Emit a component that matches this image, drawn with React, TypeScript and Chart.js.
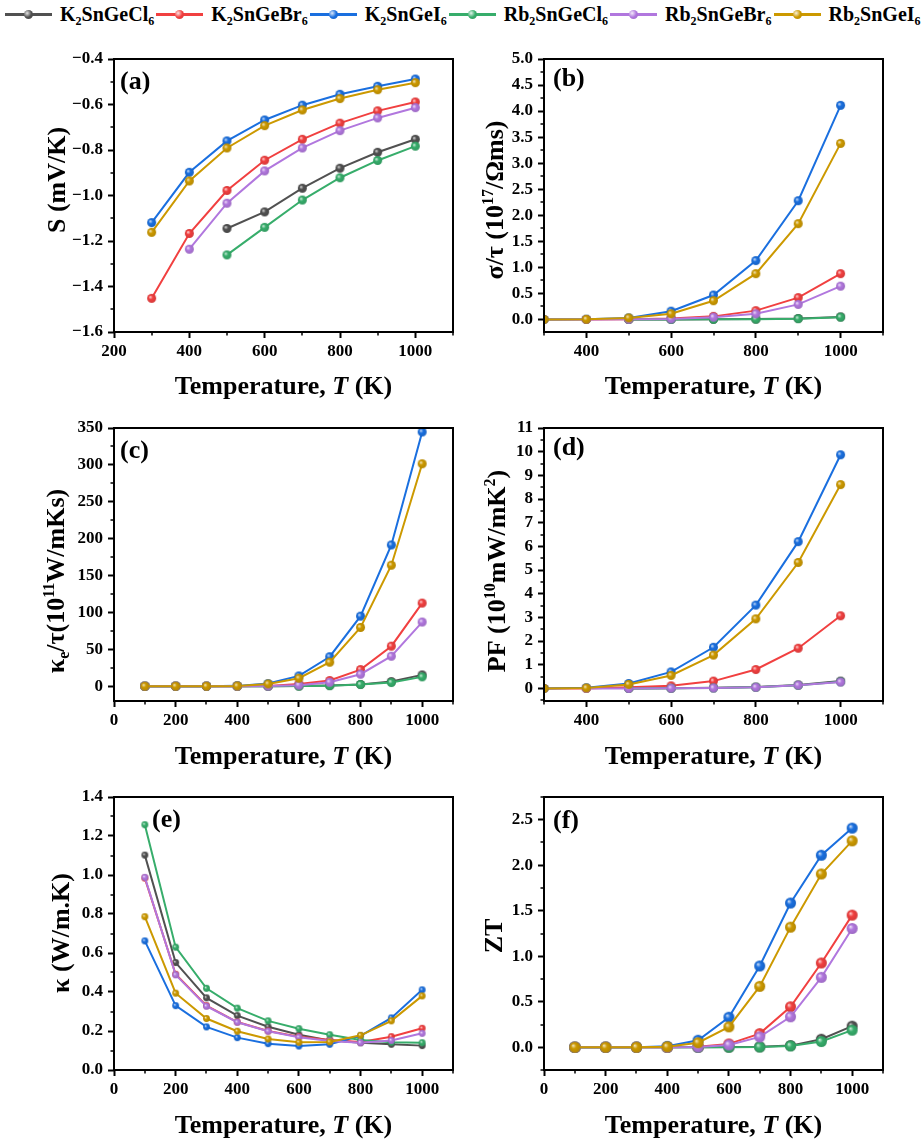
import React, { useEffect, useRef } from "react";
import { Chart, registerables } from "chart.js";

Chart.register(...registerables);

const FONT = "'Liberation Serif', 'Times New Roman', Times, serif";

// ---- data -----------------------------------------------------------------
const temperatures = [100, 200, 300, 400, 500, 600, 700, 800, 900, 1000];

const seriesNames = ["K2SnGeCl6", "K2SnGeBr6", "K2SnGeI6", "Rb2SnGeCl6", "Rb2SnGeBr6", "Rb2SnGeI6"];
const seriesColors = ["#515151", "#F14040", "#1A6FDF", "#37AD6B", "#B177DE", "#CC9900"];

// Seebeck coefficient S (mV/K), rows follow seriesNames
const seebeck = [
  [null, null, null, null, -1.145, -1.072, -0.968, -0.88, -0.81, -0.753],
  [null, null, -1.452, -1.167, -0.978, -0.845, -0.753, -0.682, -0.628, -0.589],
  [null, null, -1.119, -0.898, -0.76, -0.668, -0.603, -0.555, -0.52, -0.488],
  [null, null, null, null, -1.261, -1.14, -1.02, -0.922, -0.846, -0.783],
  [null, null, null, -1.236, -1.034, -0.892, -0.791, -0.715, -0.659, -0.614],
  [null, null, -1.162, -0.936, -0.791, -0.693, -0.624, -0.574, -0.535, -0.504],
];

// Electrical conductivity per relaxation time (10^17 / Ohm m s)
const conductivity = [
  [null, null, null, null, 0.0, 0.002, 0.004, 0.008, 0.02, 0.05],
  [null, null, 0.0, 0.0, 0.005, 0.02, 0.06, 0.17, 0.42, 0.88],
  [null, null, 0.0, 0.005, 0.03, 0.16, 0.47, 1.13, 2.28, 4.11],
  [null, null, null, null, 0.0, 0.001, 0.003, 0.006, 0.015, 0.045],
  [null, null, null, 0.0, 0.003, 0.01, 0.045, 0.11, 0.29, 0.64],
  [null, null, 0.0, 0.004, 0.03, 0.11, 0.36, 0.88, 1.84, 3.38],
];

// Electronic thermal conductivity per relaxation time (10^11 W/mKs)
const electronicKappa = [
  [0, 0, 0, 0, 0.05, 0.3, 1.0, 2.5, 6.3, 15.4],
  [0, 0, 0, 0.1, 0.5, 3.0, 7.7, 22.6, 54.3, 112.7],
  [0, 0, 0, 0.5, 3.6, 14.0, 40.0, 95.0, 191.5, 344.6],
  [0, 0, 0, 0, 0.03, 0.2, 0.8, 2.3, 5.0, 12.7],
  [0, 0, 0, 0.05, 0.2, 1.5, 5.4, 16.3, 40.7, 87.0],
  [0, 0, 0, 0.4, 3.2, 10.9, 32.6, 79.7, 164.0, 301.5],
];

// Power factor (10^10 mW/mK^2)
const powerFactor = [
  [null, null, null, null, 0.0, 0.01, 0.03, 0.06, 0.15, 0.31],
  [null, null, 0.0, 0.0, 0.05, 0.11, 0.31, 0.8, 1.7, 3.07],
  [null, null, 0.0, 0.03, 0.21, 0.7, 1.74, 3.52, 6.2, 9.87],
  [null, null, null, null, 0.0, 0.01, 0.02, 0.05, 0.13, 0.28],
  [null, null, null, 0.0, 0.0, 0.01, 0.02, 0.05, 0.14, 0.27],
  [null, null, 0.0, 0.02, 0.17, 0.55, 1.41, 2.94, 5.32, 8.61],
];

// Lattice thermal conductivity kappa (W/m.K)
const latticeKappa = [
  [1.102, 0.551, 0.37, 0.279, 0.222, 0.181, 0.152, 0.14, 0.132, 0.125],
  [0.984, 0.491, 0.33, 0.246, 0.2, 0.171, 0.154, 0.144, 0.171, 0.214],
  [0.662, 0.33, 0.221, 0.166, 0.135, 0.123, 0.132, 0.175, 0.267, 0.411],
  [1.258, 0.63, 0.419, 0.317, 0.252, 0.212, 0.181, 0.154, 0.142, 0.14],
  [0.988, 0.488, 0.327, 0.245, 0.199, 0.168, 0.149, 0.14, 0.151, 0.188],
  [0.786, 0.394, 0.264, 0.199, 0.159, 0.142, 0.144, 0.178, 0.252, 0.38],
];

// Figure of merit ZT
const figureOfMerit = [
  [0, 0, 0, 0, 0, 0.002, 0.005, 0.018, 0.088, 0.232],
  [0, 0, 0, 0, 0.005, 0.037, 0.15, 0.445, 0.926, 1.452],
  [0, 0, 0, 0.01, 0.077, 0.33, 0.893, 1.585, 2.11, 2.408],
  [0, 0, 0, 0, 0, 0.001, 0.003, 0.015, 0.063, 0.188],
  [0, 0, 0, 0, 0.003, 0.026, 0.114, 0.335, 0.768, 1.305],
  [0, 0, 0, 0.005, 0.05, 0.224, 0.669, 1.32, 1.904, 2.268],
];

// tick labels
const xTicksFrom0 = [0, 200, 400, 600, 800, 1000];
const xTicksFrom200 = [200, 400, 600, 800, 1000];
const xTicksFrom400 = [400, 600, 800, 1000];
const seebeckTicks = [-1.6, -1.4, -1.2, -1.0, -0.8, -0.6, -0.4];
const conductivityTicks = [0, 0.5, 1.0, 1.5, 2.0, 2.5, 3.0, 3.5, 4.0, 4.5, 5.0];
const electronicKappaTicks = [0, 50, 100, 150, 200, 250, 300, 350];
const powerFactorTicks = [0, 1, 2, 3, 4, 5, 6, 7, 8, 9, 10, 11];
const latticeKappaTicks = [0, 0.2, 0.4, 0.6, 0.8, 1.0, 1.2, 1.4];
const figureOfMeritTicks = [0, 0.5, 1.0, 1.5, 2.0, 2.5];

// ---- rich text ----------------------------------------------------------------
type Seg = { t: string; sup?: boolean; sub?: boolean; it?: boolean };

const tempTitle: Seg[] = [{ t: "Temperature, " }, { t: "T", it: true }, { t: " (K)" }];

function segFont(s: Seg, size: number) {
  const sz = s.sup || s.sub ? Math.round(size * 0.62) : size;
  return `${s.it ? "italic " : ""}bold ${sz}px ${FONT}`;
}

function drawRich(
  ctx: CanvasRenderingContext2D,
  segs: Seg[],
  x: number,
  y: number,
  size: number,
  vertical: boolean,
  align: "center" | "left"
) {
  ctx.save();
  ctx.translate(x, y);
  if (vertical) ctx.rotate(-Math.PI / 2);
  ctx.textBaseline = "alphabetic";
  ctx.textAlign = "left";
  ctx.fillStyle = "#000";
  const widths = segs.map((s) => {
    ctx.font = segFont(s, size);
    return ctx.measureText(s.t).width;
  });
  const total = widths.reduce((a, b) => a + b, 0);
  let cx = align === "center" ? -total / 2 : 0;
  const base = size * 0.331;
  segs.forEach((s, i) => {
    ctx.font = segFont(s, size);
    const dy = s.sup ? -size * 0.36 : s.sub ? size * 0.2 : 0;
    ctx.fillText(s.t, cx, base + dy);
    cx += widths[i];
  });
  ctx.restore();
}

// ---- markers -------------------------------------------------------------------
function mix(hex: string, target: number, t: number) {
  const n = parseInt(hex.slice(1), 16);
  const c = [(n >> 16) & 255, (n >> 8) & 255, n & 255].map((v) => Math.round(v + (target - v) * t));
  return `rgb(${c[0]},${c[1]},${c[2]})`;
}

function sphere(color: string, r: number) {
  const c = document.createElement("canvas");
  const s = Math.ceil(r * 2 + 2);
  c.width = s;
  c.height = s;
  const g = c.getContext("2d")!;
  const cx = s / 2;
  const cy = s / 2;
  const grad = g.createRadialGradient(cx - r * 0.35, cy - r * 0.35, 0, cx, cy, r);
  grad.addColorStop(0, mix(color, 255, 0.85));
  grad.addColorStop(0.45, color);
  grad.addColorStop(1, mix(color, 0, 0.12));
  g.fillStyle = grad;
  g.beginPath();
  g.arc(cx, cy, r, 0, Math.PI * 2);
  g.fill();
  return c;
}

// ---- panel layout ---------------------------------------------------------------
type Box = { x: number; y: number; w: number; h: number };
type Panel = {
  tag: string;
  rows: (number | null)[][];
  box: Box;
  plot: { left: number; top: number; right: number; bottom: number };
  xMin: number;
  xMax: number;
  xTicks: number[];
  yMin: number;
  yMax: number;
  yTicks: number[];
  yDecimals: number;
  yTitle: Seg[];
  yTitlePos: [number, number];
  tagPos: [number, number];
  xTitleY: number;
  radius: number;
};

const colLeft = { x: 0, w: 460, left: 114, right: 453, titleX: 283.5 };
const colRight = { x: 460, w: 461, left: 544, right: 883, titleX: 713.5 };
const row1 = { y: 40, h: 365, top: 59, bottom: 332 };
const row2 = { y: 405, h: 375, top: 428, bottom: 701 };
const row3 = { y: 780, h: 364, top: 797, bottom: 1070 };

function frame(col: typeof colLeft, row: typeof row1) {
  return {
    box: { x: col.x, y: row.y, w: col.w, h: row.h },
    plot: { left: col.left, top: row.top, right: col.right, bottom: row.bottom },
  };
}

const panels: Panel[] = [
  {
    tag: "(a)",
    rows: seebeck,
    ...frame(colLeft, row1),
    xMin: 200, xMax: 1100, xTicks: xTicksFrom200,
    yMin: -1.6, yMax: -0.4, yTicks: seebeckTicks, yDecimals: 1,
    yTitle: [{ t: "S (mV/K)" }],
    yTitlePos: [56, 180], tagPos: [120, 80], xTitleY: 385.5, radius: 4.5,
  },
  {
    tag: "(b)",
    rows: conductivity,
    ...frame(colRight, row1),
    xMin: 300, xMax: 1100, xTicks: xTicksFrom400,
    yMin: -0.24, yMax: 5.0, yTicks: conductivityTicks, yDecimals: 1,
    yTitle: [{ t: "σ/τ (10" }, { t: "17", sup: true }, { t: "/Ωms)" }],
    yTitlePos: [494, 200], tagPos: [553, 77], xTitleY: 385.5, radius: 4.5,
  },
  {
    tag: "(c)",
    rows: electronicKappa,
    ...frame(colLeft, row2),
    xMin: 0, xMax: 1100, xTicks: xTicksFrom0,
    yMin: -20, yMax: 350, yTicks: electronicKappaTicks, yDecimals: 0,
    yTitle: [{ t: "κ" }, { t: "e", sub: true }, { t: "/τ(10" }, { t: "11", sup: true }, { t: "W/mKs)" }],
    yTitlePos: [55, 581], tagPos: [120, 449], xTitleY: 755, radius: 4.5,
  },
  {
    tag: "(d)",
    rows: powerFactor,
    ...frame(colRight, row2),
    xMin: 300, xMax: 1100, xTicks: xTicksFrom400,
    yMin: -0.53, yMax: 11, yTicks: powerFactorTicks, yDecimals: 0,
    yTitle: [{ t: "PF (10" }, { t: "10", sup: true }, { t: "mW/mK" }, { t: "2", sup: true }, { t: ")" }],
    yTitlePos: [496, 571], tagPos: [553, 446], xTitleY: 755, radius: 4.5,
  },
  {
    tag: "(e)",
    rows: latticeKappa,
    ...frame(colLeft, row3),
    xMin: 0, xMax: 1100, xTicks: xTicksFrom0,
    yMin: 0, yMax: 1.4, yTicks: latticeKappaTicks, yDecimals: 1,
    yTitle: [{ t: "κ (W/m.K)" }],
    yTitlePos: [60, 933], tagPos: [152, 818], xTitleY: 1124, radius: 3.4,
  },
  {
    tag: "(f)",
    rows: figureOfMerit,
    ...frame(colRight, row3),
    xMin: 0, xMax: 1100, xTicks: xTicksFrom0,
    yMin: -0.25, yMax: 2.75, yTicks: figureOfMeritTicks, yDecimals: 1,
    yTitle: [{ t: "ZT" }],
    yTitlePos: [493, 936], tagPos: [553, 819], xTitleY: 1124, radius: 5.5,
  },
];

function minorTicks(major: number[], min: number, max: number) {
  const half = (major[1] - major[0]) / 2;
  const out: number[] = [];
  const start = major[0] + Math.ceil((min - major[0]) / half - 1e-9) * half;
  for (let v = start; v <= max + 1e-9; v += half) {
    if (!major.some((m) => Math.abs(m - v) < half * 0.01)) out.push(v);
  }
  return out;
}

function formatTick(v: number, d: number) {
  const s = Math.abs(v).toFixed(d);
  return v < -1e-9 ? "\u2212" + s : s;
}

function buildChart(canvas: HTMLCanvasElement, p: Panel) {
  const xMinor = minorTicks(p.xTicks, p.xMin, p.xMax);
  const yMinor = minorTicks(p.yTicks, p.yMin, p.yMax);
  const tickFont = { family: FONT, size: 17, weight: "bold" as const };
  const axisGrid = {
    display: true,
    drawOnChartArea: false,
    drawTicks: true,
    tickLength: 6,
    tickWidth: 2,
    tickColor: "#000",
    color: "#000",
  };

  const decor = {
    id: "decor",
    afterDraw(chart: Chart) {
      const { ctx, chartArea: a, scales } = chart;
      ctx.save();
      ctx.strokeStyle = "#000";
      ctx.lineWidth = 2;
      ctx.strokeRect(a.left, a.top, a.right - a.left, a.bottom - a.top);
      ctx.lineWidth = 1.5;
      ctx.beginPath();
      xMinor.forEach((v) => {
        const px = Math.round(scales.x.getPixelForValue(v));
        ctx.moveTo(px, a.bottom);
        ctx.lineTo(px, a.bottom + 3.5);
      });
      yMinor.forEach((v) => {
        const py = Math.round(scales.y.getPixelForValue(v));
        ctx.moveTo(a.left, py);
        ctx.lineTo(a.left - 3.5, py);
      });
      ctx.stroke();
      ctx.restore();

      const ox = p.box.x;
      const oy = p.box.y;
      drawRich(ctx, p.yTitle, p.yTitlePos[0] - ox, p.yTitlePos[1] - oy, 26, true, "center");
      drawRich(ctx, tempTitle, (p.plot.left + p.plot.right) / 2 - ox, p.xTitleY - oy, 26, false, "center");
      drawRich(ctx, [{ t: p.tag }], p.tagPos[0] - ox, p.tagPos[1] - oy, 26, false, "left");
    },
  };

  return new Chart(canvas, {
    type: "line",
    data: {
      datasets: p.rows.map((vals, i) => ({
        label: seriesNames[i],
        data: temperatures
          .map((t, k) => ({ x: t, y: vals[k] }))
          .filter((pt) => pt.y !== null) as { x: number; y: number }[],
        borderColor: seriesColors[i],
        backgroundColor: seriesColors[i],
        borderWidth: 2,
        pointStyle: sphere(seriesColors[i], p.radius) as any,
        pointRadius: p.radius,
        tension: 0,
        order: -i,
      })),
    },
    options: {
      animation: false,
      responsive: false,
      devicePixelRatio: 1,
      events: [],
      layout: {
        padding: {
          top: p.plot.top - p.box.y,
          right: p.box.x + p.box.w - p.plot.right,
          left: 0,
          bottom: 0,
        },
      },
      plugins: { legend: { display: false }, tooltip: { enabled: false } },
      scales: {
        x: {
          type: "linear",
          min: p.xMin,
          max: p.xMax,
          afterBuildTicks: (s: any) => {
            s.ticks = p.xTicks.map((v) => ({ value: v }));
          },
          afterFit: (s: any) => {
            s.height = p.box.y + p.box.h - p.plot.bottom;
          },
          grid: axisGrid,
          border: { display: false },
          ticks: {
            font: tickFont,
            color: "#000",
            padding: 3,
            maxRotation: 0,
            autoSkip: false,
            callback: (v: any) => String(v),
          },
        },
        y: {
          type: "linear",
          min: p.yMin,
          max: p.yMax,
          afterBuildTicks: (s: any) => {
            s.ticks = p.yTicks.map((v) => ({ value: v }));
          },
          afterFit: (s: any) => {
            s.width = p.plot.left - p.box.x;
          },
          grid: axisGrid,
          border: { display: false },
          ticks: {
            font: tickFont,
            color: "#000",
            padding: 5,
            autoSkip: false,
            callback: (v: any) => formatTick(Number(v), p.yDecimals),
          },
        },
      },
    },
    plugins: [decor],
  } as any);
}

function PanelChart({ panel }: { panel: Panel }) {
  const ref = useRef<HTMLCanvasElement>(null);
  useEffect(() => {
    const chart = buildChart(ref.current!, panel);
    return () => chart.destroy();
  }, [panel]);
  const b = panel.box;
  return (
    <canvas
      ref={ref}
      width={b.w}
      height={b.h}
      style={{ position: "absolute", left: b.x, top: b.y, width: b.w, height: b.h }}
    />
  );
}

function Formula({ name }: { name: string }) {
  const parts = name.split(/(\d+)/).filter(Boolean);
  return (
    <>
      {parts.map((part, i) =>
        /\d/.test(part) ? (
          <span key={i} style={{ fontSize: "0.6em", position: "relative", top: "0.38em" }}>
            {part}
          </span>
        ) : (
          <span key={i}>{part}</span>
        )
      )}
    </>
  );
}

function Legend() {
  return (
    <div
      style={{
        position: "absolute",
        left: 5,
        top: 0,
        height: 28,
        display: "flex",
        alignItems: "center",
        fontFamily: FONT,
        fontWeight: "bold",
        fontSize: 20,
        whiteSpace: "nowrap",
        color: "#000",
      }}
    >
      {seriesNames.map((name, i) => {
        const c = seriesColors[i];
        return (
          <div key={name} style={{ display: "flex", alignItems: "center", marginRight: 2 }}>
            <div style={{ position: "relative", width: 47, height: 10, marginRight: 8 }}>
              <div style={{ position: "absolute", left: 0, right: 0, top: 3.5, height: 3, background: c }} />
              <div
                style={{
                  position: "absolute",
                  left: 19,
                  top: 0.5,
                  width: 9,
                  height: 9,
                  borderRadius: "50%",
                  background: `radial-gradient(circle at 35% 35%, ${mix(c, 255, 0.85)} 0%, ${c} 50%, ${mix(c, 0, 0.12)} 100%)`,
                }}
              />
            </div>
            <span>
              <Formula name={name} />
            </span>
          </div>
        );
      })}
    </div>
  );
}

export default function App() {
  return (
    <div style={{ position: "absolute", left: 0, top: 0, width: 921, height: 1144, background: "#fff", overflow: "hidden" }}>
      <Legend />
      {panels.map((p) => (
        <PanelChart key={p.tag} panel={p} />
      ))}
    </div>
  );
}
